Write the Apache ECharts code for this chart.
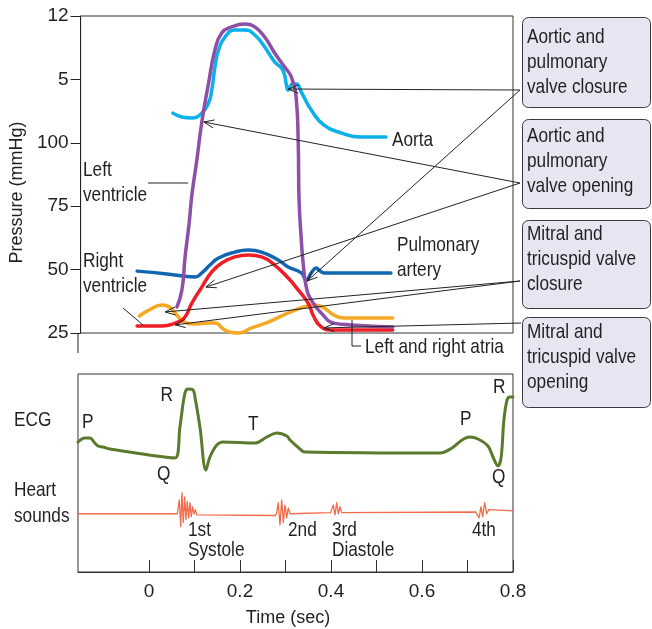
<!DOCTYPE html>
<html><head><meta charset="utf-8">
<script src="https://cdn.jsdelivr.net/npm/echarts@6/dist/echarts.min.js"></script>
<style>html,body{margin:0;padding:0;background:#fff}#c{width:652px;height:629px}</style>
</head><body><div id="c"></div>
<script>
// ---- tick labels ----
const yTickValues = [25, 50, 75, 100, 125, 150];
const yTickLabels = ['25', '50', '75', '100', '5', '12'];
const xLabelValues = [0, 0.2, 0.4, 0.6, 0.8];
const xTickValues = [0, 0.1, 0.2, 0.3, 0.4, 0.5, 0.6, 0.7, 0.8];

// ---- pressure curves (time s, pressure) ----
const aortaTime = [0.048,0.068,0.090,0.112,0.127,0.134,0.141,0.149,0.163,0.185,0.207,0.229,0.251,0.273,0.288,0.295,0.299,0.303,0.312,0.321,0.332,0.354,0.382,0.420,0.464,0.519];
const aortaPressure = [111.7,110.2,109.8,111.7,115.7,120.8,129.9,136.6,141.7,144.5,144.5,142.5,137.8,131.9,129.5,126.7,122.8,120.8,123.2,123.2,120.0,112.9,107.0,103.9,102.3,102.3];

const lvTime = [0.057,0.068,0.075,0.084,0.090,0.101,0.112,0.127,0.141,0.156,0.178,0.207,0.229,0.251,0.273,0.295,0.310,0.321,0.325,0.327,0.332,0.336,0.343,0.354,0.376,0.404,0.442,0.534];
const lvPressure = [35.3,42.0,55.0,68.4,79.4,93.2,108.2,123.6,136.6,143.3,145.7,146.8,145.7,141.7,135.4,129.9,125.9,116.9,101.1,77.4,61.7,52.6,43.1,38.0,32.9,28.9,28.2,27.4];

const paTime = [-0.031,0.035,0.097,0.112,0.130,0.149,0.185,0.215,0.244,0.281,0.303,0.332,0.343,0.354,0.365,0.371,0.382,0.530];
const paPressure = [49.4,48.3,47.1,48.7,51.8,54.6,56.9,57.7,56.9,53.8,51.0,48.7,45.9,48.7,50.6,49.8,48.7,48.7];

const rvTime = [-0.031,0.024,0.053,0.073,0.090,0.112,0.134,0.156,0.185,0.215,0.244,0.273,0.303,0.325,0.347,0.360,0.376,0.398,0.534];
const rvPressure = [27.8,27.8,28.9,30.9,36.8,43.1,49.1,52.6,55.0,55.8,55.0,51.8,46.7,42.0,36.8,31.3,27.4,26.2,26.2];

const atriaTime = [-0.026,-0.004,0.024,0.040,0.053,0.073,0.097,0.127,0.141,0.163,0.193,0.222,0.259,0.303,0.338,0.360,0.382,0.404,0.426,0.534];
const atriaPressure = [31.7,34.1,36.0,35.3,32.9,29.3,28.5,28.9,28.9,26.2,25.0,27.0,29.3,32.9,35.3,36.0,34.9,32.1,30.9,30.9];

// ---- ECG (time s, mV) ----
const ecgTime = [-0.156,-0.141,-0.130,-0.119,-0.112,-0.101,-0.086,0.057,0.068,0.079,0.086,0.097,0.101,0.112,0.125,0.134,0.149,0.163,0.233,0.259,0.281,0.303,0.310,0.327,0.343,0.640,0.666,0.688,0.705,0.723,0.745,0.756,0.767,0.774,0.780,0.787,0.793,0.800];
const ecgVoltage = [0.167,0.233,0.233,0.15,0.10,0.083,0.05,-0.10,0.417,0.983,1.05,1.033,0.917,0.417,-0.30,-0.083,0.117,0.167,0.15,0.25,0.317,0.267,0.2,0.083,0.0,-0.017,0.067,0.2,0.25,0.217,0.10,-0.083,-0.233,-0.083,0.533,0.867,0.917,0.917];

// ---- heart sounds (time s, amplitude) ----
const soundTime = [-0.156,0.0622,0.0666,0.0697,0.0725,0.0754,0.0785,0.0813,0.0842,0.0873,0.0901,0.0930,0.0960,0.0989,0.1018,0.1048,0.1084,0.2780,0.2807,0.2842,0.2879,0.2917,0.2952,0.2989,0.3026,0.3062,0.3099,0.3990,0.4015,0.4051,0.4088,0.4125,0.4161,0.4198,0.4235,0.4271,0.7180,0.7202,0.7253,0.7297,0.7334,0.7378,0.7422,0.7466,0.7495,0.800];
const soundAmp = [0,0,0.24,-0.22,0.36,-0.15,0.29,-0.10,0.21,-0.07,0.19,-0.05,0.12,0,0.07,-0.02,-0.03,-0.03,0.02,0.19,-0.19,0.24,-0.15,0.15,-0.07,0.10,0,0.02,0.02,0.15,-0.02,0.19,0,0.12,0.02,0.02,0.03,0.02,-0.07,0.12,-0.05,0.19,0,0.07,0.05,0.05];

// ---- annotation text ----
const boxTexts = [
  ['Aortic and', 'pulmonary', 'valve closure'],
  ['Aortic and', 'pulmonary', 'valve opening'],
  ['Mitral and', 'tricuspid valve', 'closure'],
  ['Mitral and', 'tricuspid valve', 'opening']
];

const FONT = "'Liberation Sans',Arial,sans-serif";
const TXT = '#231f20';
const FS = 21;      // annotation text (horizontally condensed)
const AFS = 19;     // axis tick labels
const NFS = 18;     // axis names
const zip = (a, b) => a.map((v, i) => [v, b[i]]);

function line(name, t, v, color, width, xi, yi, smooth, z) {
  return {
    type: 'line', name, data: zip(t, v), xAxisIndex: xi, yAxisIndex: yi,
    showSymbol: false, symbol: 'none', smooth: smooth,
    clip: false, silent: true, z: z,
    lineStyle: { color, width, cap: 'round', join: 'round' }
  };
}

const chart = echarts.init(document.getElementById('c'));
const labelStyle = { fontFamily: FONT, fontSize: AFS, color: TXT };
const nameStyle = { fontFamily: FONT, fontSize: NFS, color: TXT };

chart.setOption({
  animation: false,
  textStyle: { fontFamily: FONT },
  grid: [
    { left: 78, right: 139, top: 16, bottom: 296, show: true, borderColor: '#333', borderWidth: 1 },
    { left: 78, right: 139, top: 374, bottom: 57, show: true, borderColor: '#333', borderWidth: 1 }
  ],
  xAxis: [
    { gridIndex: 0, type: 'value', min: -0.156, max: 0.8, show: false },
    {
      gridIndex: 1, type: 'value', min: -0.156, max: 0.8,
      axisLine: { show: true, onZero: false, lineStyle: { color: '#333' } },
      axisTick: { show: true, inside: true, length: 12, customValues: xTickValues, lineStyle: { color: '#333' } },
      axisLabel: Object.assign({ customValues: xLabelValues, margin: 10, formatter: v => v === 0 ? '0' : v.toFixed(1) }, labelStyle),
      splitLine: { show: false },
      name: 'Time (sec)', nameLocation: 'middle', nameGap: 37,
      nameTextStyle: Object.assign({ padding: [0, 15, 0, 0] }, nameStyle)
    }
  ],
  yAxis: [
    {
      gridIndex: 0, type: 'value', min: 25, max: 150, interval: 25,
      axisLine: { show: true, onZero: false, lineStyle: { color: '#222' } },
      axisTick: { show: true, length: 10, lineStyle: { color: '#222' } },
      axisLabel: Object.assign({ margin: 12, showMinLabel: true, showMaxLabel: true,
        formatter: v => { const i = yTickValues.indexOf(v); return i >= 0 ? yTickLabels[i] : ''; } }, labelStyle),
      splitLine: { show: false },
      name: 'Pressure (mmHg)', nameLocation: 'middle', nameGap: 41,
      nameTextStyle: Object.assign({ padding: [0, 36, 0, 0] }, nameStyle)
    },
    { gridIndex: 1, type: 'value', min: -2, max: 1.3, show: false },
    { gridIndex: 1, type: 'value', min: -1, max: 2.4, show: false }
  ],
  series: [
    line('Left and right atria', atriaTime, atriaPressure, '#F7A823', 3.5, 0, 0, 0.5, 2),
    line('Pulmonary artery', paTime, paPressure, '#1166B3', 3.5, 0, 0, 0.5, 3),
    line('Right ventricle', rvTime, rvPressure, '#EE1D26', 3.5, 0, 0, 0.5, 4),
    line('Aorta', aortaTime, aortaPressure, '#0AB0EC', 3.5, 0, 0, 0.5, 5),
    line('Left ventricle', lvTime, lvPressure, '#8E4FA6', 3.5, 0, 0, 0.5, 6),
    line('ECG', ecgTime, ecgVoltage, '#5B7A2C', 3, 1, 1, 0.35, 3),
    line('Heart sounds', soundTime, soundAmp, '#F26B4A', 1.3, 1, 2, false, 3)
  ]
});

// ---- annotations ----
const px = (t, p) => chart.convertToPixel({ xAxisIndex: 0, yAxisIndex: 0 }, [t, p]);
const arrows = [
  { from: [520, 90], to: [0.303, 121.2] },
  { from: [520, 90], to: [0.345, 45.5] },
  { from: [520, 183], to: [0.1165, 108.2] },
  { from: [520, 183], to: [0.121, 43.1] },
  { from: [520, 281], to: [0.031, 33.3] },
  { from: [520, 281], to: [0.053, 28.2] },
  { from: [521, 323], to: [0.382, 27.0] }
];
const g = [];
function txt(s, x, y, align) {
  g.push({ type: 'text', z: 50, x: x, y: y, scaleX: 0.82,
    style: { text: s, x: 0, y: 0, fill: TXT, font: FS + 'px ' + FONT, textAlign: align || 'left', textVerticalAlign: 'middle' } });
}
function seg(x1, y1, x2, y2) {
  g.push({ type: 'line', z: 40, shape: { x1, y1, x2, y2 }, style: { stroke: '#222', lineWidth: 1 } });
}
arrows.forEach(a => {
  const tip = px(a.to[0], a.to[1]);
  const from = a.from;
  seg(from[0], from[1], tip[0], tip[1]);
  const dx = from[0] - tip[0], dy = from[1] - tip[1], L = Math.hypot(dx, dy);
  const ux = dx / L, uy = dy / L, an = 0.38, len = 11, c = Math.cos(an), s = Math.sin(an);
  const p1 = [tip[0] + len * (ux * c - uy * s), tip[1] + len * (uy * c + ux * s)];
  const p2 = [tip[0] + len * (ux * c + uy * s), tip[1] + len * (uy * c - ux * s)];
  g.push({ type: 'polyline', z: 40, shape: { points: [p1, tip, p2] }, style: { stroke: '#222', lineWidth: 1, fill: null } });
});
// boxes
const boxTops = [17, 119, 220, 317], boxBottoms = [107, 208, 308, 407];
const boxFirstLine = [37.5, 136, 234, 332.5];
boxTexts.forEach((lines, i) => {
  g.push({ type: 'rect', z: 45, shape: { x: 522.5, y: boxTops[i] + 0.5, width: 128, height: boxBottoms[i] - boxTops[i], r: 6 },
    style: { fill: '#E6E6F3', stroke: '#3a3a3a', lineWidth: 1 } });
  lines.forEach((s, j) => txt(s, 527, boxFirstLine[i] + 25 * j));
});
// curve labels and leaders
txt('Left', 83, 170.5); txt('ventricle', 83, 195.5);
seg(148, 183, 188, 183);
txt('Right', 83, 261.5); txt('ventricle', 83, 286.5);
seg(123, 308, 143, 325);
txt('Aorta', 392, 140);
txt('Pulmonary', 397, 245.5); txt('artery', 397, 270.5);
g.push({ type: 'polyline', z: 40, shape: { points: [[352, 320], [352, 346], [361, 346]] }, style: { stroke: '#222', lineWidth: 1, fill: null } });
txt('Left and right atria', 365, 347.5);
// left axis extension
g.push({ type: 'line', z: 40, shape: { x1: 78, y1: 333, x2: 78, y2: 353 }, style: { stroke: '#222', lineWidth: 1 } });
// ECG panel labels
txt('ECG', 14, 420);
txt('Heart', 14, 490); txt('sounds', 14, 516);
txt('P', 82, 422.5); txt('R', 160.5, 395); txt('Q', 157, 474); txt('T', 248, 424);
txt('P', 460, 419); txt('R', 493, 387); txt('Q', 492, 477);
txt('1st', 188, 530); txt('Systole', 188, 550);
txt('2nd', 288, 530);
txt('3rd', 332, 530); txt('Diastole', 332, 550);
txt('4th', 472, 530);

chart.setOption({ graphic: g });
</script>
</body></html>
